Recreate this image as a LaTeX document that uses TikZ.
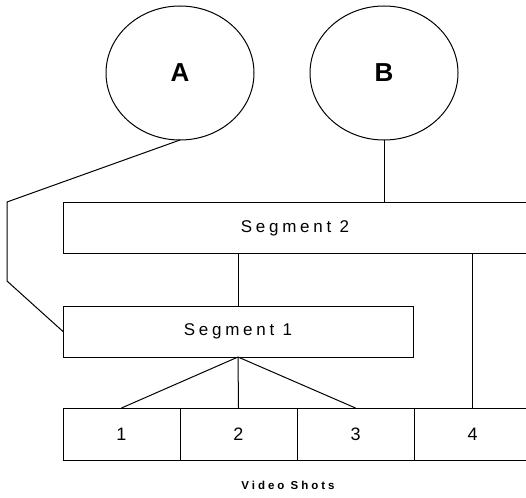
\documentclass[tikz,border=0pt]{standalone}
\usepackage{fontspec}
\setmainfont{Liberation Sans}
\newfontfamily\spacedfont[LetterSpace=22]{Liberation Sans}
\newfontfamily\captionfont[LetterSpace=26]{Liberation Sans}
\usetikzlibrary{positioning,shapes.geometric}

\begin{document}
\begin{tikzpicture}[
x=1pt, y=-1pt,
every node/.style={outer sep=0pt},
story/.style={ellipse, draw, line width=1pt, minimum width=148pt, minimum height=134pt, font=\fontsize{26}{30}\selectfont\bfseries},
segbox/.style={rectangle, draw, line width=1pt, minimum height=51pt, font=\fontsize{17}{20}\spacedfont},
shotbox/.style={rectangle, draw, line width=1pt, minimum width=117pt, minimum height=52pt, font=\fontsize{18}{21}\selectfont},
link/.style={line width=1pt}
]
\useasboundingbox (0,0) rectangle (526,497);
\clip (0,0) rectangle (526,497);

\node[story] (storyA) at (180,73) {A};
\node[story] (storyB) at (384,73) {B};

\node[segbox, minimum width=464pt] (seg2) at (295,228) {Segment 2};
\node[segbox, minimum width=350pt] (seg1) at (238,331.5) {Segment 1};

\node[shotbox] (shot1) at (121.5,434) {1};
\node[shotbox, right=0pt of shot1] (shot2) {2};
\node[shotbox, right=0pt of shot2] (shot3) {3};
\node[shotbox, right=0pt of shot3] (shot4) {4};

\node[font=\fontsize{11.5}{14}\captionfont\bfseries] (caption) at (288,485) {Video Shots};

% story A loops round to the left of segment 2
\coordinate (bendA) at (7,202);
\coordinate (bendB) at (7,281);
\draw[link] (storyA.south) -- (bendA) -- (bendB) -- (seg1.west);
\draw[link] (storyB.south) -- (storyB.south |- seg2.north);

\draw[link] (seg1.north |- seg2.south) -- (seg1.north);
\draw[link] (shot4.north |- seg2.south) -- (shot4.north);

\draw[link] (seg1.south) -- (shot1.north);
\draw[link] (seg1.south) -- (shot2.north);
\draw[link] (seg1.south) -- (shot3.north);

\end{tikzpicture}
\end{document}
